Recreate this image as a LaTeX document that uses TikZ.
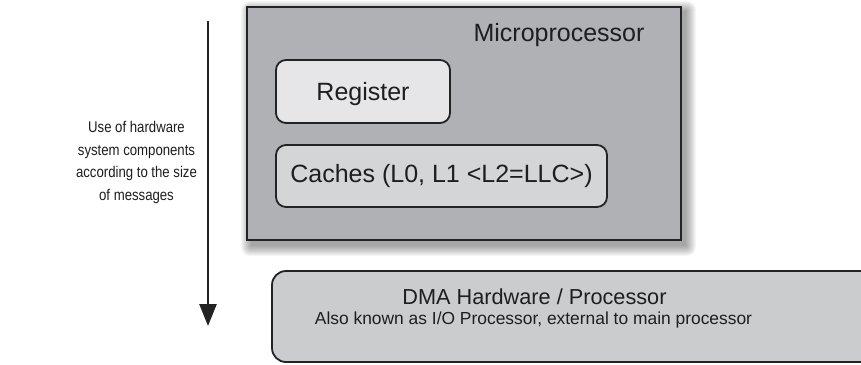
\documentclass[tikz,border=0pt]{standalone}
\usepackage{fontspec}
\setmainfont{Liberation Sans}
\newfontfamily\sidefont[FakeStretch=0.85]{Liberation Sans}
\usetikzlibrary{arrows.meta}

\definecolor{edgecol}{RGB}{35,35,37}
\definecolor{cpufill}{RGB}{176,177,181}
\definecolor{regfill}{RGB}{230,230,232}
\definecolor{cachefill}{RGB}{212,213,215}
\definecolor{dmafill}{RGB}{203,204,206}
\definecolor{textcol}{RGB}{30,30,32}

\tikzset{
  panel/.style={draw=edgecol, line width=1.8pt, inner sep=0pt, text=textcol},
  unitbox/.style={panel, rounded corners=10pt},
  bigtext/.style={font=\fontsize{25}{29}\selectfont, text=textcol},
  sidetext/.style={font=\sidefont\fontsize{15.5}{22.5}\selectfont, text=textcol, align=center},
  flowarrow/.style={draw=edgecol, line width=2.6pt, -{Triangle[length=22pt,width=17pt]}},
}

\begin{document}
\begin{tikzpicture}[x=1pt,y=-1pt]
\useasboundingbox (0,0) rectangle (861,364);
\fill[white] (0,0) rectangle (861,364);

% outline of the microprocessor frame, used to place its shadow
\path node[minimum width=434pt, minimum height=233pt, inner sep=0pt] (cpu) at (464,123.5) {};

% soft drop shadow behind the microprocessor frame
\foreach \k in {0,...,10} {
  \fill[black, opacity=0.035, rounded corners=\k pt]
    ([shift={(4-\k,4-\k)}]cpu.north west) rectangle ([shift={(5+\k,6+\k)}]cpu.south east);
}

% the frame itself
\node[panel, fill=cpufill, minimum width=434pt, minimum height=233pt] at (cpu) {};
\node[bigtext] (cpulabel) at (559,35) {Microprocessor};

% inner units
\node[unitbox, fill=regfill, minimum width=174pt, minimum height=63pt, bigtext,
      text height=18pt, text depth=1pt] (reg) at (363,91.5) {Register};
\node[unitbox, fill=cachefill, minimum width=331pt, minimum height=62pt, bigtext] (cache) at (441.5,176) {Caches (L0, L1 <L2=LLC>)};

% DMA unit, running off the right edge
\node[panel, rounded corners=14pt, fill=dmafill, minimum width=608pt, minimum height=91pt] (dma) at (576,316.5) {};
\node[text=textcol, inner sep=0pt, font=\fontsize{21.7}{26}\selectfont] (dmatitle) at (534.5,297) {DMA Hardware / Processor};
\node[text=textcol, inner sep=0pt, font=\fontsize{17.4}{21}\selectfont] (dmanote) at (533.5,319.5) {Also known as I/O Processor, external to main processor};

% direction of use
\coordinate (atop) at (208,21);
\coordinate (abot) at (208,326);
\draw[flowarrow] (atop) -- (abot);
\node[sidetext] (side) at (136.5,162.5)
  {Use of hardware\\system components\\according to the size\\of messages};
\end{tikzpicture}
\end{document}
